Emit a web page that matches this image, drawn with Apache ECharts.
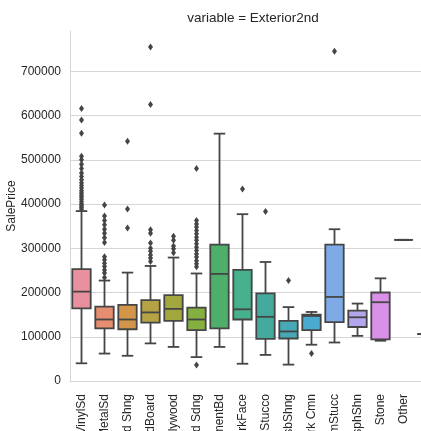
<!DOCTYPE html>
<html>
<head>
<meta charset="utf-8">
<script src="https://cdn.jsdelivr.net/npm/echarts@6/dist/echarts.min.js"></script>
<style>
  html, body { margin: 0; padding: 0; background: #ffffff; }
  #chart { width: 421px; height: 431px; }
</style>
</head>
<body>
<div id="chart"></div>
<script>
// Sale price distribution by exterior covering (second material)
const categories = ['VinylSd', 'MetalSd', 'Wd Shng', 'HdBoard', 'Plywood', 'Wd Sdng', 'CmentBd', 'BrkFace',
                    'Stucco', 'AsbShng', 'Brk Cmn', 'ImStucc', 'AsphShn', 'Stone', 'Other', 'CBlock'];
const whiskerLow  = [40000, 62000, 57000, 85000, 77000, 54000, 77000, 39000, 59000, 37000, 82000, 87000, 102000, 91000, 319000, 106000];
const quartile1   = [164000, 119000, 117000, 132000, 136000, 115000, 119000, 139000, 95000, 96000, 115000, 133000, 122000, 94000, 319000, 106000];
const medians     = [202000, 139000, 139000, 155000, 163000, 139000, 242000, 162000, 145000, 112000, 147000, 190000, 144000, 178000, 319000, 106000];
const quartile3   = [253000, 168000, 172000, 183000, 194000, 166000, 308000, 251000, 198000, 136000, 150000, 308000, 159000, 200000, 319000, 106000];
const whiskerHigh = [384000, 227000, 245000, 260000, 279000, 243000, 559000, 377000, 269000, 167000, 156000, 343000, 175000, 232000, 319000, 106000];
const outliers = [
  [616000, 590000, 560000, 508000, 500000, 490000, 480000, 470000, 462000, 455000, 448000, 442000, 436000,
   430000, 425000, 420000, 415000, 410000, 405000, 400000, 396000, 392000, 388000],
  [398000, 373000, 363000, 353000, 343000, 334000, 324000, 313000, 281000, 274000, 266000, 259000, 251000, 244000, 234000],
  [542000, 389000, 346000],
  [755000, 625000, 342000, 334000, 312000, 300000, 293000, 285000, 278000, 270000],
  [327000, 318000, 305000, 299000, 290000],
  [480000, 363000, 355000, 348000, 340000, 333000, 325000, 318000, 310000, 302000, 295000, 287000, 280000,
   272000, 265000, 258000, 36000],
  [],
  [434000],
  [383000],
  [227000],
  [62000],
  [745000],
  [], [], [], []
];
const yTicks = [0, 100000, 200000, 300000, 400000, 500000, 600000, 700000];

const boxColors = ['#e8909e', '#e58e70', '#d3954a', '#b5a244', '#a2a83f', '#84b03f', '#4daf6a', '#47b08c',
                   '#45aa9e', '#46a9b5', '#4aaad0', '#7eabe6', '#b3a5ee', '#d891e6', '#e68fcb', '#e78eac'];
const LINE = '#454545';
const GRID = '#d6d6d6';
const TEXT = '#262626';

const boxData = categories.map((c, i) => [i, whiskerLow[i], quartile1[i], medians[i], quartile3[i], whiskerHigh[i]]);
const flierData = [];
outliers.forEach((vals, i) => vals.forEach(v => flierData.push([i, v])));

function lineStyle() { return { stroke: LINE, lineWidth: 1.8, fill: null }; }

function renderBox(params, api) {
  const i = api.value(0);
  const lo = api.coord([i, api.value(1)]);
  const b1 = api.coord([i, api.value(2)]);
  const md = api.coord([i, api.value(3)]);
  const b3 = api.coord([i, api.value(4)]);
  const hi = api.coord([i, api.value(5)]);
  const band = api.size([1, 0])[0];
  const bw = band * 0.8;
  const cw = band * 0.5;
  const cx = lo[0];
  return {
    type: 'group',
    children: [
      { type: 'line', shape: { x1: cx, y1: b1[1], x2: cx, y2: lo[1] }, style: lineStyle() },
      { type: 'line', shape: { x1: cx, y1: b3[1], x2: cx, y2: hi[1] }, style: lineStyle() },
      { type: 'line', shape: { x1: cx - cw / 2, y1: lo[1], x2: cx + cw / 2, y2: lo[1] }, style: lineStyle() },
      { type: 'line', shape: { x1: cx - cw / 2, y1: hi[1], x2: cx + cw / 2, y2: hi[1] }, style: lineStyle() },
      { type: 'rect', shape: { x: cx - bw / 2, y: b3[1], width: bw, height: b1[1] - b3[1] },
        style: { fill: boxColors[i], stroke: LINE, lineWidth: 1.8 } },
      { type: 'line', shape: { x1: cx - bw / 2, y1: md[1], x2: cx + bw / 2, y2: md[1] }, style: lineStyle() }
    ]
  };
}

const yMax = 791000;
// one split line per tick; the extra tick at the top edge stays invisible
const splitColors = yTicks.map(() => GRID).concat(['rgba(0,0,0,0)']);

const chart = echarts.init(document.getElementById('chart'), null, { renderer: 'canvas' });
chart.setOption({
  backgroundColor: '#ffffff',
  animation: false,
  title: {
    text: 'variable = Exterior2nd',
    left: 253,
    top: 11,
    textAlign: 'center',
    padding: 0,
    textStyle: { fontFamily: 'Liberation Sans, Arial, sans-serif', fontSize: 13.5, fontWeight: 'normal', color: TEXT }
  },
  grid: { left: 70, top: 31, width: 368, height: 350, containLabel: false, outerBoundsMode: 'none' },
  xAxis: {
    type: 'category',
    data: categories,
    boundaryGap: true,
    axisLine: { show: true, lineStyle: { color: GRID, width: 1 } },
    axisTick: { show: false },
    splitLine: { show: false },
    axisLabel: {
      rotate: 90,
      margin: 13,
      interval: 0,
      hideOverlap: false,
      fontFamily: 'Liberation Sans, Arial, sans-serif',
      fontSize: 12,
      color: TEXT
    }
  },
  yAxis: {
    type: 'value',
    min: 0,
    max: yMax,
    interval: 100000,
    name: 'SalePrice',
    nameLocation: 'middle',
    nameGap: 52,
    nameMoveOverlap: false,
    nameTextStyle: { fontFamily: 'Liberation Sans, Arial, sans-serif', fontSize: 12, color: TEXT },
    axisLine: { show: true, lineStyle: { color: GRID, width: 1 } },
    axisTick: { show: false },
    splitLine: { show: true, lineStyle: { color: splitColors, width: 1 } },
    axisLabel: {
      margin: 9,
      fontFamily: 'Liberation Sans, Arial, sans-serif',
      fontSize: 12,
      color: TEXT,
      showMaxLabel: false,
      formatter: v => (yTicks.indexOf(v) >= 0 ? String(v) : '')
    }
  },
  series: [
    {
      type: 'custom',
      renderItem: renderBox,
      encode: { x: 0, y: [1, 2, 3, 4, 5] },
      data: boxData,
      z: 2
    },
    {
      type: 'scatter',
      data: flierData,
      symbol: 'diamond',
      symbolSize: [5, 7],
      itemStyle: { color: LINE, opacity: 1 },
      z: 3
    }
  ]
});
</script>
</body>
</html>
